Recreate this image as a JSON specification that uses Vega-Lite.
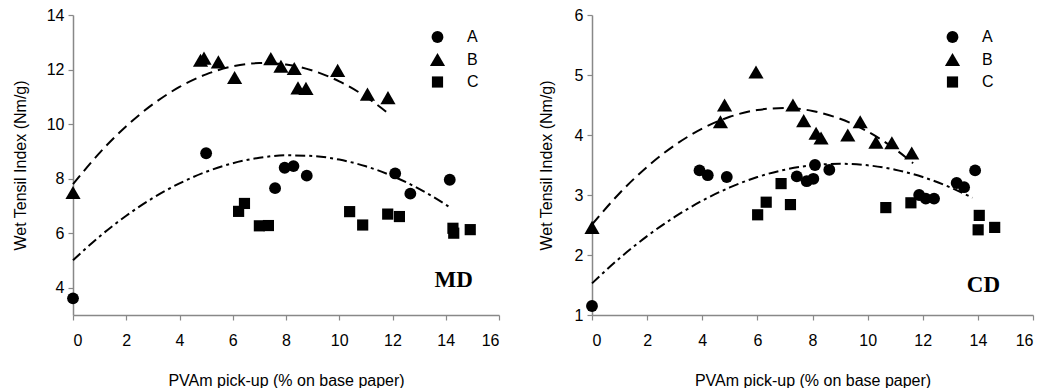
{
  "$schema": "https://vega.github.io/schema/vega-lite/v6.json",
  "padding": {"left": 12, "top": 7, "right": 5, "bottom": 0},
  "spacing": 38,
  "config": {
    "view": {"stroke": null},
    "axis": {
      "grid": false,
      "domainColor": "#888888",
      "domainWidth": 1.5,
      "tickColor": "#888888",
      "tickSize": 5,
      "tickWidth": 1.2,
      "labelFont": "Liberation Sans",
      "labelFontSize": 16,
      "labelColor": "black",
      "titleFont": "Liberation Sans",
      "titleFontSize": 16,
      "titleFontWeight": "normal",
      "titleColor": "black"
    },
    "axisX": {"labelPadding": 12, "titlePadding": 24},
    "axisY": {"labelPadding": 4, "titlePadding": 18},
    "legend": {
      "labelFont": "Liberation Sans",
      "labelFontSize": 16,
      "labelColor": "black",
      "symbolFillColor": "black",
      "symbolStrokeColor": "black",
      "rowPadding": 3,
      "padding": 0,
      "labelOffset": 21,
      "orient": "none"
    }
  },
  "datasets": {
    "frame": [{"edge": "frame"}],
    "md_points": [
      {"x": 0, "y": 3.61, "group": "A"},
      {"x": 5.0, "y": 8.93, "group": "A"},
      {"x": 7.59, "y": 7.65, "group": "A"},
      {"x": 7.95, "y": 8.4, "group": "A"},
      {"x": 8.28, "y": 8.46, "group": "A"},
      {"x": 8.78, "y": 8.11, "group": "A"},
      {"x": 12.1, "y": 8.19, "group": "A"},
      {"x": 12.67, "y": 7.45, "group": "A"},
      {"x": 14.15, "y": 7.96, "group": "A"},
      {"x": 0, "y": 7.49, "group": "B"},
      {"x": 4.79, "y": 12.34, "group": "B"},
      {"x": 4.92, "y": 12.42, "group": "B"},
      {"x": 5.46, "y": 12.28, "group": "B"},
      {"x": 6.07, "y": 11.71, "group": "B"},
      {"x": 7.43, "y": 12.4, "group": "B"},
      {"x": 7.81, "y": 12.12, "group": "B"},
      {"x": 8.31, "y": 12.04, "group": "B"},
      {"x": 8.45, "y": 11.33, "group": "B"},
      {"x": 8.75, "y": 11.31, "group": "B"},
      {"x": 9.94, "y": 11.97, "group": "B"},
      {"x": 11.06, "y": 11.1, "group": "B"},
      {"x": 11.83, "y": 10.97, "group": "B"},
      {"x": 6.22, "y": 6.8, "group": "C"},
      {"x": 6.44, "y": 7.09, "group": "C"},
      {"x": 7.0, "y": 6.27, "group": "C"},
      {"x": 7.34, "y": 6.28, "group": "C"},
      {"x": 10.39, "y": 6.79, "group": "C"},
      {"x": 10.88, "y": 6.3, "group": "C"},
      {"x": 11.82, "y": 6.7, "group": "C"},
      {"x": 12.26, "y": 6.61, "group": "C"},
      {"x": 14.27, "y": 6.18, "group": "C"},
      {"x": 14.3, "y": 6.0, "group": "C"},
      {"x": 14.92, "y": 6.13, "group": "C"}
    ],
    "md_fit": [
      {"x": 0, "y": 5.009, "series": "A"},
      {"x": 1, "y": 5.881, "series": "A"},
      {"x": 2, "y": 6.641, "series": "A"},
      {"x": 3, "y": 7.29, "series": "A"},
      {"x": 4, "y": 7.826, "series": "A"},
      {"x": 5, "y": 8.251, "series": "A"},
      {"x": 6, "y": 8.564, "series": "A"},
      {"x": 7, "y": 8.766, "series": "A"},
      {"x": 8, "y": 8.855, "series": "A"},
      {"x": 9, "y": 8.833, "series": "A"},
      {"x": 10, "y": 8.698, "series": "A"},
      {"x": 11, "y": 8.452, "series": "A"},
      {"x": 12, "y": 8.095, "series": "A"},
      {"x": 13, "y": 7.625, "series": "A"},
      {"x": 14, "y": 7.044, "series": "A"},
      {"x": 14.1, "y": 6.98, "series": "A"},
      {"x": 0, "y": 7.797, "series": "B"},
      {"x": 1, "y": 8.946, "series": "B"},
      {"x": 2, "y": 9.923, "series": "B"},
      {"x": 3, "y": 10.728, "series": "B"},
      {"x": 4, "y": 11.362, "series": "B"},
      {"x": 5, "y": 11.825, "series": "B"},
      {"x": 6, "y": 12.117, "series": "B"},
      {"x": 7, "y": 12.237, "series": "B"},
      {"x": 8, "y": 12.185, "series": "B"},
      {"x": 9, "y": 11.962, "series": "B"},
      {"x": 10, "y": 11.568, "series": "B"},
      {"x": 11, "y": 11.002, "series": "B"},
      {"x": 11.85, "y": 10.387, "series": "B"}
    ],
    "cd_points": [
      {"x": 0, "y": 1.15, "group": "A"},
      {"x": 3.9, "y": 3.41, "group": "A"},
      {"x": 4.2, "y": 3.33, "group": "A"},
      {"x": 4.89, "y": 3.3, "group": "A"},
      {"x": 7.43, "y": 3.31, "group": "A"},
      {"x": 7.79, "y": 3.23, "group": "A"},
      {"x": 8.03, "y": 3.27, "group": "A"},
      {"x": 8.09, "y": 3.5, "group": "A"},
      {"x": 8.61, "y": 3.42, "group": "A"},
      {"x": 11.87, "y": 3.0, "group": "A"},
      {"x": 12.11, "y": 2.94, "group": "A"},
      {"x": 12.41, "y": 2.94, "group": "A"},
      {"x": 13.23, "y": 3.2, "group": "A"},
      {"x": 13.5, "y": 3.13, "group": "A"},
      {"x": 13.9, "y": 3.41, "group": "A"},
      {"x": 0, "y": 2.46, "group": "B"},
      {"x": 4.66, "y": 4.22, "group": "B"},
      {"x": 4.81, "y": 4.5, "group": "B"},
      {"x": 5.95, "y": 5.05, "group": "B"},
      {"x": 7.29, "y": 4.5, "group": "B"},
      {"x": 7.68, "y": 4.24, "group": "B"},
      {"x": 8.13, "y": 4.03, "group": "B"},
      {"x": 8.31, "y": 3.95, "group": "B"},
      {"x": 9.28, "y": 4.0, "group": "B"},
      {"x": 9.73, "y": 4.22, "group": "B"},
      {"x": 10.3, "y": 3.88, "group": "B"},
      {"x": 10.88, "y": 3.87, "group": "B"},
      {"x": 11.6, "y": 3.7, "group": "B"},
      {"x": 6.01, "y": 2.67, "group": "C"},
      {"x": 6.32, "y": 2.88, "group": "C"},
      {"x": 6.86, "y": 3.19, "group": "C"},
      {"x": 7.2, "y": 2.84, "group": "C"},
      {"x": 10.66, "y": 2.79, "group": "C"},
      {"x": 11.57, "y": 2.87, "group": "C"},
      {"x": 14.05, "y": 2.66, "group": "C"},
      {"x": 14.01, "y": 2.42, "group": "C"},
      {"x": 14.61, "y": 2.46, "group": "C"}
    ],
    "cd_fit": [
      {"x": 0, "y": 1.527, "series": "A"},
      {"x": 1, "y": 1.946, "series": "A"},
      {"x": 2, "y": 2.315, "series": "A"},
      {"x": 3, "y": 2.634, "series": "A"},
      {"x": 4, "y": 2.905, "series": "A"},
      {"x": 5, "y": 3.126, "series": "A"},
      {"x": 6, "y": 3.299, "series": "A"},
      {"x": 7, "y": 3.422, "series": "A"},
      {"x": 8, "y": 3.495, "series": "A"},
      {"x": 9, "y": 3.52, "series": "A"},
      {"x": 10, "y": 3.495, "series": "A"},
      {"x": 11, "y": 3.422, "series": "A"},
      {"x": 12, "y": 3.299, "series": "A"},
      {"x": 13, "y": 3.126, "series": "A"},
      {"x": 13.8, "y": 2.953, "series": "A"},
      {"x": 0, "y": 2.508, "series": "B"},
      {"x": 1, "y": 3.03, "series": "B"},
      {"x": 2, "y": 3.47, "series": "B"},
      {"x": 3, "y": 3.829, "series": "B"},
      {"x": 4, "y": 4.107, "series": "B"},
      {"x": 5, "y": 4.303, "series": "B"},
      {"x": 6, "y": 4.417, "series": "B"},
      {"x": 7, "y": 4.45, "series": "B"},
      {"x": 8, "y": 4.401, "series": "B"},
      {"x": 9, "y": 4.27, "series": "B"},
      {"x": 10, "y": 4.058, "series": "B"},
      {"x": 11, "y": 3.764, "series": "B"},
      {"x": 11.65, "y": 3.53, "series": "B"}
    ]
  },
  "hconcat": [
    {
      "width": 426,
      "height": 300,
      "encoding": {
        "x": {"field": "x", "type": "quantitative", "scale": {"domain": [0, 16], "nice": false, "zero": false},
              "axis": {"title": "PVAm pick-up (% on base paper)", "values": [0, 2, 4, 6, 8, 10, 12, 14, 16]}},
        "y": {"field": "y", "type": "quantitative", "scale": {"domain": [3, 14], "nice": false, "zero": false},
              "axis": {"title": "Wet Tensil Index (Nm/g)", "values": [4, 6, 8, 10, 12, 14]}}
      },
      "layer": [
        {
          "data": {"name": "frame"},
          "mark": {"type": "rule", "color": "#888888", "strokeWidth": 1.5},
          "encoding": {"y": {"datum": 14, "type": "quantitative"}, "x": {"datum": 0, "type": "quantitative"}, "x2": {"datum": 16}}
        },
        {
          "data": {"name": "frame"},
          "mark": {"type": "rule", "color": "#888888", "strokeWidth": 1.5},
          "encoding": {"x": {"datum": 16, "type": "quantitative"}, "y": {"datum": 3, "type": "quantitative"}, "y2": {"datum": 14}}
        },
        {
          "data": {"name": "md_fit"},
          "mark": {"type": "line", "color": "black", "strokeWidth": 2, "interpolate": "monotone"},
          "encoding": {
            "detail": {"field": "series"},
            "strokeDash": {"field": "series", "type": "nominal",
                           "scale": {"domain": ["A", "B"], "range": [[10, 4, 3, 4], [11, 6]]}, "legend": null}
          }
        },
        {
          "data": {"name": "md_points"},
          "mark": {"type": "point", "filled": true, "color": "black", "opacity": 1},
          "encoding": {
            "shape": {"field": "group", "type": "nominal",
                      "scale": {"domain": ["A", "B", "C"], "range": ["circle", "triangle-up", "square"]},
                      "legend": {"title": null, "legendX": 356, "legendY": 14}},
            "size": {"field": "group", "type": "nominal",
                      "scale": {"type": "ordinal", "domain": ["A", "B", "C"], "range": [140, 230, 125]},
                      "legend": {"title": null, "legendX": 356, "legendY": 14}}
          }
        },
        {
          "data": {"values": [{"x": 14.3, "y": 4.3, "label": "MD"}]},
          "mark": {"type": "text", "font": "Liberation Serif", "fontWeight": "bold", "fontSize": 23, "align": "center", "baseline": "middle", "color": "black"},
          "encoding": {"text": {"field": "label"}}
        }
      ]
    },
    {
      "width": 441,
      "height": 300,
      "encoding": {
        "x": {"field": "x", "type": "quantitative", "scale": {"domain": [0, 16], "nice": false, "zero": false},
              "axis": {"title": "PVAm pick-up (% on base paper)", "values": [0, 2, 4, 6, 8, 10, 12, 14, 16]}},
        "y": {"field": "y", "type": "quantitative", "scale": {"domain": [1, 6], "nice": false, "zero": false},
              "axis": {"title": "Wet Tensil Index (Nm/g)", "values": [1, 2, 3, 4, 5, 6], "titlePadding": 20}}
      },
      "layer": [
        {
          "data": {"name": "frame"},
          "mark": {"type": "rule", "color": "#888888", "strokeWidth": 1.5},
          "encoding": {"y": {"datum": 6, "type": "quantitative"}, "x": {"datum": 0, "type": "quantitative"}, "x2": {"datum": 16}}
        },
        {
          "data": {"name": "frame"},
          "mark": {"type": "rule", "color": "#888888", "strokeWidth": 1.5},
          "encoding": {"x": {"datum": 16, "type": "quantitative"}, "y": {"datum": 1, "type": "quantitative"}, "y2": {"datum": 6}}
        },
        {
          "data": {"name": "cd_fit"},
          "mark": {"type": "line", "color": "black", "strokeWidth": 2, "interpolate": "monotone"},
          "encoding": {
            "detail": {"field": "series"},
            "strokeDash": {"field": "series", "type": "nominal",
                           "scale": {"domain": ["A", "B"], "range": [[10, 4, 3, 4], [11, 6]]}, "legend": null}
          }
        },
        {
          "data": {"name": "cd_points"},
          "mark": {"type": "point", "filled": true, "color": "black", "opacity": 1},
          "encoding": {
            "shape": {"field": "group", "type": "nominal",
                      "scale": {"domain": ["A", "B", "C"], "range": ["circle", "triangle-up", "square"]},
                      "legend": {"title": null, "legendX": 352, "legendY": 14}},
            "size": {"field": "group", "type": "nominal",
                      "scale": {"type": "ordinal", "domain": ["A", "B", "C"], "range": [140, 230, 125]},
                      "legend": {"title": null, "legendX": 352, "legendY": 14}}
          }
        },
        {
          "data": {"values": [{"x": 14.2, "y": 1.5, "label": "CD"}]},
          "mark": {"type": "text", "font": "Liberation Serif", "fontWeight": "bold", "fontSize": 23, "align": "center", "baseline": "middle", "color": "black"},
          "encoding": {"text": {"field": "label"}}
        }
      ]
    }
  ],
  "resolve": {"scale": {"shape": "independent", "size": "independent", "strokeDash": "independent"}, "legend": {"shape": "independent", "size": "independent"}}
}
